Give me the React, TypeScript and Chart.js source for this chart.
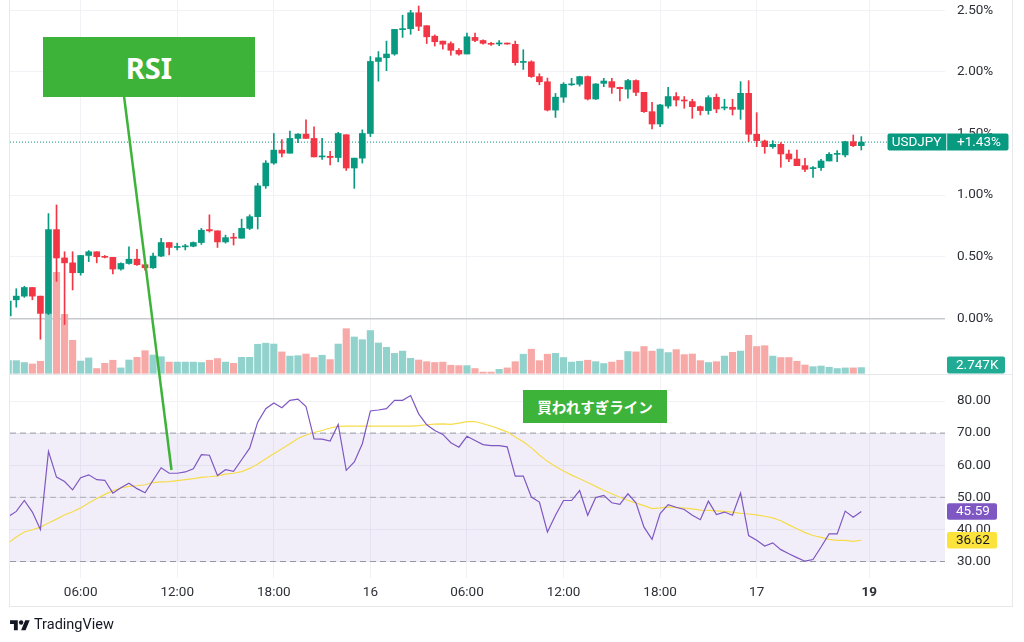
import React, { useEffect, useRef } from 'react';
import { Chart, registerables } from 'chart.js';

Chart.register(...registerables);

// ---------- data (30-minute candles, change in % ; index 0 = 15th 02:00) ----------
const START_INDEX = -1;
const OPEN = [0.02, 0.15, 0.18, 0.25, 0.18, 0.04, 0.72, 0.49, 0.45, 0.37, 0.51, 0.54, 0.50, 0.495, 0.40, 0.445, 0.48, 0.435, 0.41, 0.505, 0.615, 0.575, 0.58, 0.585, 0.615, 0.72, 0.71, 0.62, 0.655, 0.65, 0.73, 0.825, 1.075, 1.26, 1.365, 1.34, 1.46, 1.495, 1.46, 1.31, 1.315, 1.305, 1.49, 1.22, 1.30, 1.50, 2.085, 2.115, 2.145, 2.343, 2.35, 2.48, 2.375, 2.29, 2.25, 2.23, 2.175, 2.145, 2.28, 2.255, 2.232, 2.227, 2.232, 2.224, 2.077, 2.082, 1.962, 1.92, 1.69, 1.795, 1.895, 1.90, 1.962, 1.78, 1.907, 1.921, 1.875, 1.86, 1.93, 1.834, 1.677, 1.577, 1.723, 1.80, 1.772, 1.759, 1.718, 1.686, 1.794, 1.707, 1.713, 1.696, 1.826, 1.494, 1.439, 1.393, 1.412, 1.334, 1.293, 1.239, 1.215, 1.223, 1.277, 1.331, 1.326, 1.434, 1.401];
const HIGH = [0.15, 0.24, 0.26, 0.25, 0.18, 0.85, 0.92, 0.54, 0.54, 0.51, 0.55, 0.54, 0.51, 0.495, 0.45, 0.58, 0.56, 0.445, 0.53, 0.65, 0.615, 0.61, 0.60, 0.62, 0.73, 0.84, 0.71, 0.675, 0.69, 0.805, 0.84, 1.095, 1.28, 1.50, 1.45, 1.52, 1.50, 1.61, 1.555, 1.46, 1.355, 1.51, 1.49, 1.30, 1.53, 2.125, 2.165, 2.25, 2.345, 2.46, 2.50, 2.535, 2.375, 2.30, 2.25, 2.245, 2.19, 2.315, 2.315, 2.26, 2.24, 2.255, 2.235, 2.25, 2.18, 2.09, 1.985, 1.95, 1.825, 1.913, 1.948, 1.965, 1.967, 1.905, 1.948, 1.948, 1.876, 1.94, 1.935, 1.835, 1.753, 1.737, 1.875, 1.832, 1.80, 1.778, 1.723, 1.807, 1.821, 1.778, 1.778, 1.921, 1.929, 1.669, 1.447, 1.442, 1.426, 1.366, 1.366, 1.299, 1.231, 1.29, 1.345, 1.361, 1.437, 1.488, 1.475];
const LOW = [0.00, 0.09, 0.17, 0.15, -0.17, 0.03, 0.30, -0.05, 0.23, 0.35, 0.46, 0.45, 0.49, 0.36, 0.39, 0.44, 0.43, 0.39, 0.405, 0.50, 0.515, 0.555, 0.555, 0.58, 0.60, 0.70, 0.575, 0.61, 0.595, 0.65, 0.72, 0.725, 1.055, 1.25, 1.31, 1.34, 1.425, 1.46, 1.31, 1.29, 1.245, 1.27, 1.20, 1.055, 1.26, 1.475, 1.925, 2.01, 2.135, 2.28, 2.305, 2.335, 2.23, 2.21, 2.185, 2.135, 2.135, 2.145, 2.245, 2.225, 2.215, 2.213, 2.224, 2.055, 2.02, 1.955, 1.895, 1.683, 1.63, 1.753, 1.89, 1.885, 1.772, 1.776, 1.88, 1.826, 1.764, 1.786, 1.807, 1.672, 1.537, 1.556, 1.705, 1.723, 1.705, 1.623, 1.65, 1.656, 1.669, 1.691, 1.65, 1.615, 1.434, 1.393, 1.339, 1.38, 1.226, 1.272, 1.239, 1.19, 1.144, 1.20, 1.277, 1.272, 1.31, 1.393, 1.366];
const CLOSE = [0.14, 0.18, 0.25, 0.18, 0.04, 0.72, 0.49, 0.45, 0.37, 0.51, 0.54, 0.50, 0.495, 0.40, 0.445, 0.48, 0.435, 0.41, 0.505, 0.615, 0.575, 0.58, 0.585, 0.615, 0.715, 0.71, 0.62, 0.655, 0.65, 0.73, 0.825, 1.075, 1.26, 1.365, 1.34, 1.46, 1.495, 1.46, 1.31, 1.315, 1.305, 1.50, 1.22, 1.30, 1.50, 2.085, 2.115, 2.145, 2.345, 2.35, 2.48, 2.37, 2.285, 2.245, 2.225, 2.175, 2.145, 2.285, 2.255, 2.232, 2.224, 2.235, 2.226, 2.075, 2.082, 1.962, 1.92, 1.69, 1.795, 1.90, 1.90, 1.962, 1.78, 1.902, 1.926, 1.875, 1.864, 1.93, 1.834, 1.677, 1.577, 1.732, 1.80, 1.772, 1.764, 1.718, 1.686, 1.791, 1.699, 1.713, 1.696, 1.826, 1.494, 1.442, 1.393, 1.412, 1.334, 1.293, 1.239, 1.209, 1.218, 1.277, 1.331, 1.334, 1.434, 1.401, 1.43];
const VOLUME_K = [6.1, 6.1, 5.2, 4.5, 5.8, 28.9, 48.7, 28.4, 15.9, 5.9, 7.4, 2.3, 4.8, 6.3, 2.6, 6.4, 7.7, 10.9, 8.8, 8.0, 5.4, 5.4, 5.4, 5.4, 5.2, 6.3, 7.1, 5.4, 4.8, 7.7, 7.7, 14.0, 14.5, 14.1, 10.3, 8.3, 8.5, 9.3, 7.6, 8.7, 6.6, 14.1, 21.5, 17.5, 16.2, 20.6, 14.6, 12.5, 9.6, 10.7, 7.2, 6.4, 5.6, 5.2, 5.4, 3.9, 3.7, 3.7, 2.3, 0.6, 0.6, 1.9, 2.6, 5.6, 9.2, 11.6, 6.1, 9.2, 9.6, 7.6, 5.4, 5.8, 6.3, 5.6, 4.7, 5.4, 6.3, 10.5, 10.3, 12.9, 10.7, 11.7, 10.0, 11.4, 9.0, 9.3, 6.1, 5.2, 5.6, 8.3, 10.1, 10.7, 18.3, 12.9, 13.3, 8.3, 7.6, 7.6, 5.8, 4.0, 3.2, 3.5, 2.9, 2.3, 2.6, 2.6, 2.747];
const RSI = [44.0, 45.6, 49.0, 45.4, 40.0, 64.3, 56.3, 54.9, 52.3, 56.1, 57.0, 55.5, 55.3, 51.3, 53.0, 54.4, 52.7, 51.4, 55.3, 59.2, 57.5, 57.5, 57.9, 58.9, 63.3, 63.1, 56.8, 58.6, 58.1, 61.7, 65.3, 73.4, 77.6, 79.4, 77.9, 80.2, 80.6, 78.3, 68.2, 68.1, 67.5, 72.7, 58.4, 61.0, 66.7, 76.9, 77.2, 77.6, 80.2, 80.2, 81.7, 76.0, 72.6, 70.8, 69.6, 67.0, 65.6, 69.0, 67.7, 66.4, 66.1, 66.1, 65.7, 56.6, 56.6, 50.1, 48.5, 39.2, 44.4, 49.0, 49.0, 52.1, 44.4, 49.9, 50.6, 48.3, 47.8, 51.1, 48.3, 40.7, 36.9, 44.9, 47.7, 46.9, 46.2, 44.4, 43.0, 48.8, 44.6, 45.4, 44.4, 51.3, 38.1, 36.6, 34.8, 35.8, 33.7, 32.4, 31.2, 30.1, 30.6, 34.5, 38.6, 38.6, 45.7, 43.8, 45.59];
const RSI_MA = [35.7, 37.6, 39.2, 39.9, 40.7, 42.0, 43.2, 44.5, 45.5, 46.7, 48.2, 49.6, 50.9, 52.0, 52.9, 53.4, 53.6, 53.9, 54.6, 54.8, 54.9, 55.2, 55.5, 55.8, 56.2, 56.4, 56.7, 57.2, 57.5, 58.0, 59.0, 60.4, 62.0, 63.6, 65.1, 66.7, 68.3, 69.4, 70.2, 70.8, 71.6, 72.1, 72.2, 72.2, 72.2, 72.2, 72.2, 72.2, 72.2, 72.2, 72.2, 72.3, 72.6, 72.8, 72.9, 72.7, 73.1, 73.6, 73.6, 72.9, 72.2, 71.3, 70.4, 68.8, 67.3, 65.4, 63.2, 61.2, 59.6, 58.2, 56.9, 55.8, 54.6, 53.4, 52.2, 51.1, 50.0, 49.1, 48.2, 47.4, 46.5, 46.7, 47.0, 46.8, 46.6, 46.4, 46.0, 45.9, 45.8, 45.6, 45.4, 45.0, 44.8, 44.5, 44.1, 43.6, 42.7, 41.4, 40.2, 39.0, 38.1, 37.5, 36.9, 36.6, 36.6, 36.3, 36.62];

const TIME_TICK_INDEX = [8, 20, 32, 44, 56, 68, 80, 92, 106];
const TIME_TICK_LABELS = ['06:00', '12:00', '18:00', '16', '06:00', '12:00', '18:00', '17', '19'];
const BOLD_TICK_INDEX = 106;
const PRICE_TICKS = [0, 0.5, 1, 1.5, 2, 2.5];
const RSI_TICKS = [30, 40, 50, 60, 70, 80];
const RSI_UPPER = 70;
const RSI_MID = 50;
const RSI_LOWER = 30;
const SYMBOL = 'USDJPY';

// ---------- axis ranges ----------
const X_MIN = -0.78;
const X_MAX = 115.4;
const PRICE_MIN = -0.4602;
const PRICE_MAX = 2.5836;
const VOL_MIN = -0.82;
const VOL_MAX = 179.9;
const RSI_MIN = 24.86;
const RSI_MAX = 88.1;

// ---------- styles ----------
const FONT = 'Roboto, "Noto Sans", sans-serif';
const UP = '#089981';
const DOWN = '#f23645';
const VOL_UP = '#92d2cc';
const VOL_DOWN = '#f7a9a7';
const VOL_TAG = '#22ab94';
const GRID = '#f0f2f5';
const TEXT = '#2e3038';
const RSI_COLOR = '#7e57c2';
const MA_COLOR = '#f6dc4a';
const MA_TAG = '#fbe33c';
const GREEN = '#3db33a';
const FRAME = '#e6e8ec';

const IDX = OPEN.map((_, i) => START_INDEX + i);
const IS_UP = OPEN.map((o, i) => CLOSE[i] >= o);

function tag(ctx: CanvasRenderingContext2D, x: number, yc: number, w: number, h: number, bg: string) {
  ctx.fillStyle = bg;
  ctx.beginPath();
  (ctx as any).roundRect(x, yc - h / 2, w, h, 2);
  ctx.fill();
}

const priceTags = {
  id: 'priceTags',
  afterDraw(chart: any) {
    const { ctx, chartArea } = chart;
    const last = CLOSE[CLOSE.length - 1];
    const r = chartArea.right;
    const yc = chart.scales.y.getPixelForValue(last);
    ctx.save();
    tag(ctx, r - 57.5, yc, 121, 17, UP);
    ctx.fillStyle = 'rgba(255,255,255,0.85)';
    ctx.fillRect(r + 1.2, yc - 8.5, 1, 17);
    ctx.font = `13.5px ${FONT}`;
    ctx.fillStyle = '#ffffff';
    ctx.textBaseline = 'middle';
    ctx.textAlign = 'center';
    ctx.fillText(SYMBOL, r - 28.5, yc + 0.5);
    ctx.textAlign = 'left';
    ctx.fillText(`+${last.toFixed(2)}%`, r + 12, yc + 0.5);

    const lastVol = VOLUME_K[VOLUME_K.length - 1];
    let vy = chart.scales.vol.getPixelForValue(lastVol);
    vy = Math.min(vy, chartArea.bottom - 10);
    tag(ctx, r + 2, vy, 58, 17, VOL_TAG);
    ctx.fillStyle = '#ffffff';
    ctx.fillText(`${lastVol.toFixed(3)}K`, r + 11, vy + 0.5);
    ctx.restore();
  },
};

const rsiTags = {
  id: 'rsiTags',
  afterDraw(chart: any) {
    const { ctx, chartArea } = chart;
    const r = chartArea.right;
    const ys = chart.scales.y;
    const lastR = RSI[RSI.length - 1];
    const lastM = RSI_MA[RSI_MA.length - 1];
    ctx.save();
    ctx.font = `13.5px ${FONT}`;
    ctx.textBaseline = 'middle';
    ctx.textAlign = 'left';
    const y1 = ys.getPixelForValue(lastR);
    tag(ctx, r + 2, y1, 50, 16.5, RSI_COLOR);
    ctx.fillStyle = '#ffffff';
    ctx.fillText(lastR.toFixed(2), r + 11, y1 + 0.5);
    const y2 = ys.getPixelForValue(lastM);
    tag(ctx, r + 2, y2, 50, 16.5, MA_TAG);
    ctx.fillStyle = '#131722';
    ctx.fillText(lastM.toFixed(2), r + 11, y2 + 0.5);
    ctx.restore();
  },
};

function xScale(showLabels: boolean) {
  return {
    type: 'linear',
    min: X_MIN,
    max: X_MAX,
    bounds: 'data',
    offset: false,
    border: { display: false },
    grid: { color: GRID, drawTicks: false, offset: false },
    afterBuildTicks: (s: any) => {
      s.ticks = TIME_TICK_INDEX.map((v) => ({ value: v }));
    },
    afterFit: (s: any) => {
      s.height = showLabels ? 28 : 0;
      s.paddingLeft = 0;
      s.paddingRight = 0;
    },
    ticks: {
      display: showLabels,
      autoSkip: false,
      maxRotation: 0,
      padding: 7,
      color: TEXT,
      font: (c: any) => ({
        family: FONT,
        size: 13.5,
        weight: c.tick && c.tick.value === BOLD_TICK_INDEX ? 'bold' : 'normal',
      }),
      callback: (v: number) => {
        const i = TIME_TICK_INDEX.indexOf(v);
        return i >= 0 ? TIME_TICK_LABELS[i] : '';
      },
    },
  };
}

function rightAxis(min: number, max: number, ticks: number[], fmt: (v: number) => string, gridColor: any, gridWidth: any) {
  return {
    type: 'linear',
    position: 'right',
    min,
    max,
    bounds: 'data',
    border: { display: false },
    grid: { color: gridColor, lineWidth: gridWidth, drawTicks: false },
    afterBuildTicks: (s: any) => {
      s.ticks = ticks.map((v) => ({ value: v }));
    },
    afterFit: (s: any) => {
      s.width = 79;
      s.paddingTop = 0;
      s.paddingBottom = 0;
    },
    ticks: {
      padding: 12,
      color: TEXT,
      font: { family: FONT, size: 13.5 },
      callback: (v: number) => fmt(v),
    },
  };
}

export default function App() {
  const priceRef = useRef<HTMLCanvasElement | null>(null);
  const rsiRef = useRef<HTMLCanvasElement | null>(null);

  useEffect(() => {
    const last = CLOSE[CLOSE.length - 1];
    const priceChart = new Chart(priceRef.current as HTMLCanvasElement, {
      type: 'bar',
      data: {
        datasets: [
          {
            type: 'bar',
            label: 'body',
            data: IDX.map((x, i) => ({ x, y: [OPEN[i], CLOSE[i]] })) as any,
            backgroundColor: IS_UP.map((u) => (u ? UP : DOWN)),
            barThickness: 6,
            minBarLength: 1,
            grouped: false,
            borderWidth: 0,
            order: 0,
            yAxisID: 'y',
          },
          {
            type: 'bar',
            label: 'wick',
            data: IDX.map((x, i) => ({ x, y: [LOW[i], HIGH[i]] })) as any,
            backgroundColor: IS_UP.map((u) => (u ? UP : DOWN)),
            barThickness: 1,
            grouped: false,
            borderWidth: 0,
            order: 1,
            yAxisID: 'y',
          },
          {
            type: 'line',
            label: 'last',
            data: [
              { x: X_MIN, y: last },
              { x: X_MAX, y: last },
            ],
            borderColor: UP,
            borderWidth: 1,
            borderDash: [1, 2],
            pointRadius: 0,
            order: 2,
            yAxisID: 'y',
          },
          {
            type: 'bar',
            label: 'volume',
            data: IDX.map((x, i) => ({ x, y: VOLUME_K[i] })) as any,
            backgroundColor: IS_UP.map((u) => (u ? VOL_UP : VOL_DOWN)),
            barThickness: 6.5,
            grouped: false,
            borderWidth: 0,
            order: 3,
            yAxisID: 'vol',
          },
        ] as any,
      },
      options: {
        responsive: false,
        animation: false,
        events: [],
        layout: { padding: { left: 10, right: 0, top: 0, bottom: 0 }, autoPadding: false } as any,
        plugins: { legend: { display: false }, tooltip: { enabled: false } },
        scales: {
          x: xScale(false) as any,
          y: rightAxis(
            PRICE_MIN,
            PRICE_MAX,
            PRICE_TICKS,
            (v) => `${v.toFixed(2)}%`,
            (c: any) => (c.tick && c.tick.value === 0 ? '#c7c9ce' : GRID),
            (c: any) => (c.tick && c.tick.value === 0 ? 1.5 : 1)
          ) as any,
          vol: { type: 'linear', display: false, min: VOL_MIN, max: VOL_MAX } as any,
        },
      },
      plugins: [priceTags],
    });

    const band = (v: number) => [
      { x: X_MIN, y: v },
      { x: X_MAX, y: v },
    ];
    const rsiChart = new Chart(rsiRef.current as HTMLCanvasElement, {
      type: 'line',
      data: {
        datasets: [
          {
            label: 'RSI',
            data: IDX.map((x, i) => ({ x, y: RSI[i] })),
            borderColor: RSI_COLOR,
            borderWidth: 1.2,
            pointRadius: 0,
            tension: 0,
            order: 0,
          },
          {
            label: 'RSI MA',
            data: IDX.map((x, i) => ({ x, y: RSI_MA[i] })),
            borderColor: MA_COLOR,
            borderWidth: 1.2,
            pointRadius: 0,
            order: 1,
          },
          {
            label: 'upper',
            data: band(RSI_UPPER),
            borderColor: '#9a9ca4',
            borderWidth: 1,
            borderDash: [6, 4],
            pointRadius: 0,
            fill: '+1',
            backgroundColor: 'rgba(126,87,194,0.1)',
            order: 3,
          },
          {
            label: 'lower',
            data: band(RSI_LOWER),
            borderColor: '#9a9ca4',
            borderWidth: 1,
            borderDash: [6, 4],
            pointRadius: 0,
            fill: false,
            order: 4,
          },
          {
            label: 'mid',
            data: band(RSI_MID),
            borderColor: '#a8aab1',
            borderWidth: 1,
            borderDash: [6, 4],
            pointRadius: 0,
            fill: false,
            order: 2,
          },
        ] as any,
      },
      options: {
        responsive: false,
        animation: false,
        events: [],
        layout: { padding: { left: 10, right: 0, top: 0, bottom: 0 }, autoPadding: false } as any,
        plugins: { legend: { display: false }, tooltip: { enabled: false } },
        scales: {
          x: xScale(true) as any,
          y: rightAxis(RSI_MIN, RSI_MAX, RSI_TICKS, (v) => v.toFixed(2), GRID, 1) as any,
        },
      },
      plugins: [rsiTags],
    });

    return () => {
      priceChart.destroy();
      rsiChart.destroy();
    };
  }, []);

  const abs = (s: React.CSSProperties): React.CSSProperties => ({ position: 'absolute', ...s });

  return (
    <div style={abs({ left: 0, top: 0, width: 1024, height: 642, background: '#fff', overflow: 'hidden' })}>
      <canvas ref={priceRef} width={1024} height={375} style={abs({ left: 0, top: 0, width: 1024, height: 375 })} />
      <canvas ref={rsiRef} width={1024} height={231} style={abs({ left: 0, top: 375, width: 1024, height: 231 })} />

      {/* frame */}
      <div style={abs({ left: 9, top: 0, width: 1, height: 607, background: FRAME })} />
      <div style={abs({ left: 1012, top: 0, width: 1, height: 607, background: FRAME })} />
      <div style={abs({ left: 9, top: 374, width: 1004, height: 1, background: FRAME })} />
      <div style={abs({ left: 9, top: 606, width: 1004, height: 1, background: FRAME })} />

      {/* annotations */}
      <svg width={1024} height={642} style={abs({ left: 0, top: 0, pointerEvents: 'none' })}>
        <line x1={124} y1={96} x2={171.5} y2={470} stroke={GREEN} strokeWidth={2.5} />
      </svg>
      <div
        style={abs({
          left: 43,
          top: 37,
          width: 212,
          height: 60,
          background: GREEN,
          color: '#fff',
          display: 'flex',
          alignItems: 'center',
          justifyContent: 'center',
          fontFamily: '"Noto Sans", sans-serif',
          fontWeight: 700,
          fontSize: 29,
        })}
      >
        RSI
      </div>
      <div
        style={abs({
          left: 523,
          top: 390,
          width: 144,
          height: 33,
          background: GREEN,
          color: '#fff',
          display: 'flex',
          alignItems: 'center',
          justifyContent: 'center',
          fontFamily: '"Noto Sans CJK JP", sans-serif',
          fontWeight: 700,
          fontSize: 14.5,
        })}
      >
        買われすぎライン
      </div>

      {/* logo */}
      <svg width={20} height={15.5} viewBox="0 0 36 28" style={abs({ left: 10, top: 618 })}>
        <path d="M14 22H7V11H0V4h14v18zM28 22h-8l7.5-18h8L28 22z" fill="#131722" />
        <circle cx={20} cy={8} r={4} fill="#131722" />
      </svg>
      <div style={abs({ left: 34, top: 616, fontFamily: 'Roboto, sans-serif', fontSize: 14.5, lineHeight: '18px', color: '#131722' })}>
        TradingView
      </div>
    </div>
  );
}
